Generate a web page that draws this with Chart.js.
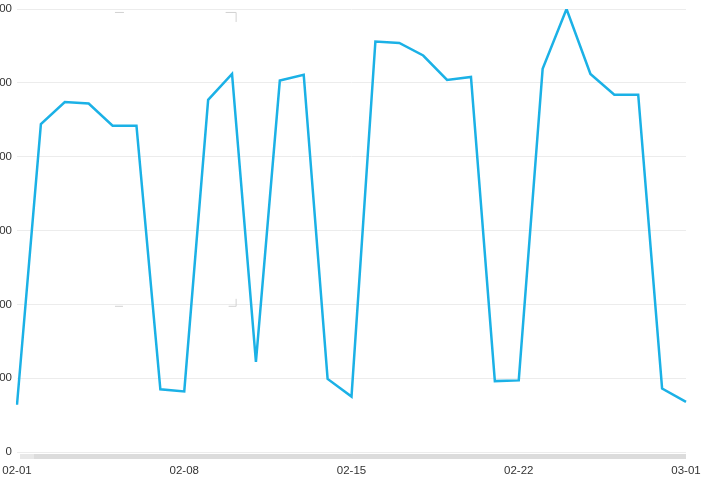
<!DOCTYPE html>
<html>
<head>
<meta charset="utf-8">
<script src="https://cdn.jsdelivr.net/npm/chart.js@4.4.1/dist/chart.umd.min.js"></script>
<style>
	html, body { margin: 0; padding: 0; background: #fff; }
	#wrap { position: relative; width: 703px; height: 480px; overflow: hidden; }
	#box { position: absolute; left: -40px; top: 0; width: 743px; height: 480px; }
</style>
</head>
<body>
<div id="wrap"><div id="box"><canvas id="lineChart"></canvas></div></div>
<script>
const dates = [
	'02-01', '02-02', '02-03', '02-04', '02-05', '02-06', '02-07',
	'02-08', '02-09', '02-10', '02-11', '02-12', '02-13', '02-14',
	'02-15', '02-16', '02-17', '02-18', '02-19', '02-20', '02-21',
	'02-22', '02-23', '02-24', '02-25', '02-26', '02-27', '02-28',
	'03-01'
];
const values = [
	64, 444, 474, 472, 442, 442, 85,
	82, 477, 512, 122, 503, 511, 99,
	75, 556, 554, 537, 504, 508, 96,
	97, 519, 600, 512, 484, 484, 86,
	68
];
const shownDates = ['02-01', '02-08', '02-15', '02-22', '03-01'];
const yTicks = [0, 100, 200, 300, 400, 500, 600];

// scrollbar under the plot and the faint corner marks of a zoom box
const extras = {
	id: 'extras',
	afterDraw(chart) {
		const { ctx, chartArea: a, scales } = chart;
		ctx.save();
		ctx.fillStyle = '#dcdcdc';
		ctx.fillRect(a.left + 3, a.bottom + 2, a.right - a.left - 3, 5);
		ctx.fillStyle = '#e8e8e8';
		ctx.fillRect(a.left + 3, a.bottom + 2, 14, 5);
		ctx.strokeStyle = '#d2d2d2';
		ctx.lineWidth = 1;
		const x0 = scales.x.getPixelForValue(4.1), x1 = scales.x.getPixelForValue(9.15);
		const y0 = scales.y.getPixelForValue(596), y1 = scales.y.getPixelForValue(198);
		ctx.beginPath();
		ctx.moveTo(x0, y0 + 0.5); ctx.lineTo(x0 + 9, y0 + 0.5);
		ctx.moveTo(x1 - 10, y0 + 0.5); ctx.lineTo(x1 + 0.5, y0 + 0.5); ctx.lineTo(x1 + 0.5, y0 + 10);
		ctx.moveTo(x0, y1 + 0.5); ctx.lineTo(x0 + 8, y1 + 0.5);
		ctx.moveTo(x1 - 7, y1 + 0.5); ctx.lineTo(x1 + 0.5, y1 + 0.5); ctx.lineTo(x1 + 0.5, y1 - 7);
		ctx.stroke();
		ctx.restore();
	}
};

new Chart(document.getElementById('lineChart'), {
	type: 'line',
	data: {
		labels: dates,
		datasets: [{
			data: values,
			borderColor: '#1bb1e6',
			borderWidth: 2.5,
			pointRadius: 0,
			tension: 0,
			fill: false
		}]
	},
	options: {
		responsive: true,
		maintainAspectRatio: false,
		animation: false,
		layout: { padding: { top: 9, right: 17, left: 0, bottom: 0 } },
		plugins: {
			legend: { display: false },
			tooltip: { enabled: false }
		},
		scales: {
			x: {
				offset: false,
				grid: { display: false, drawTicks: false },
				border: { display: false },
				afterFit: (scale) => {
					scale.height = 28;
					scale.paddingLeft = 0;
					scale.paddingRight = 0;
				},
				ticks: {
					autoSkip: false,
					maxRotation: 0,
					padding: 12,
					color: '#333',
					font: { family: 'Liberation Sans', size: 11.5 },
					callback: function (value) {
						const label = this.getLabelForValue(value);
						return shownDates.includes(label) ? label : '';
					}
				}
			},
			y: {
				min: yTicks[0],
				max: yTicks[yTicks.length - 1],
				afterFit: (scale) => {
					scale.width = 57;
					scale.paddingTop = 0;
					scale.paddingBottom = 0;
				},
				afterBuildTicks: (scale) => { scale.ticks = yTicks.map(v => ({ value: v })); },
				grid: { color: '#ececec', drawTicks: false },
				border: { display: false },
				ticks: {
					padding: 5,
					color: '#333',
					font: { family: 'Liberation Sans', size: 11.5 }
				}
			}
		}
	},
	plugins: [extras]
});
</script>
</body>
</html>
